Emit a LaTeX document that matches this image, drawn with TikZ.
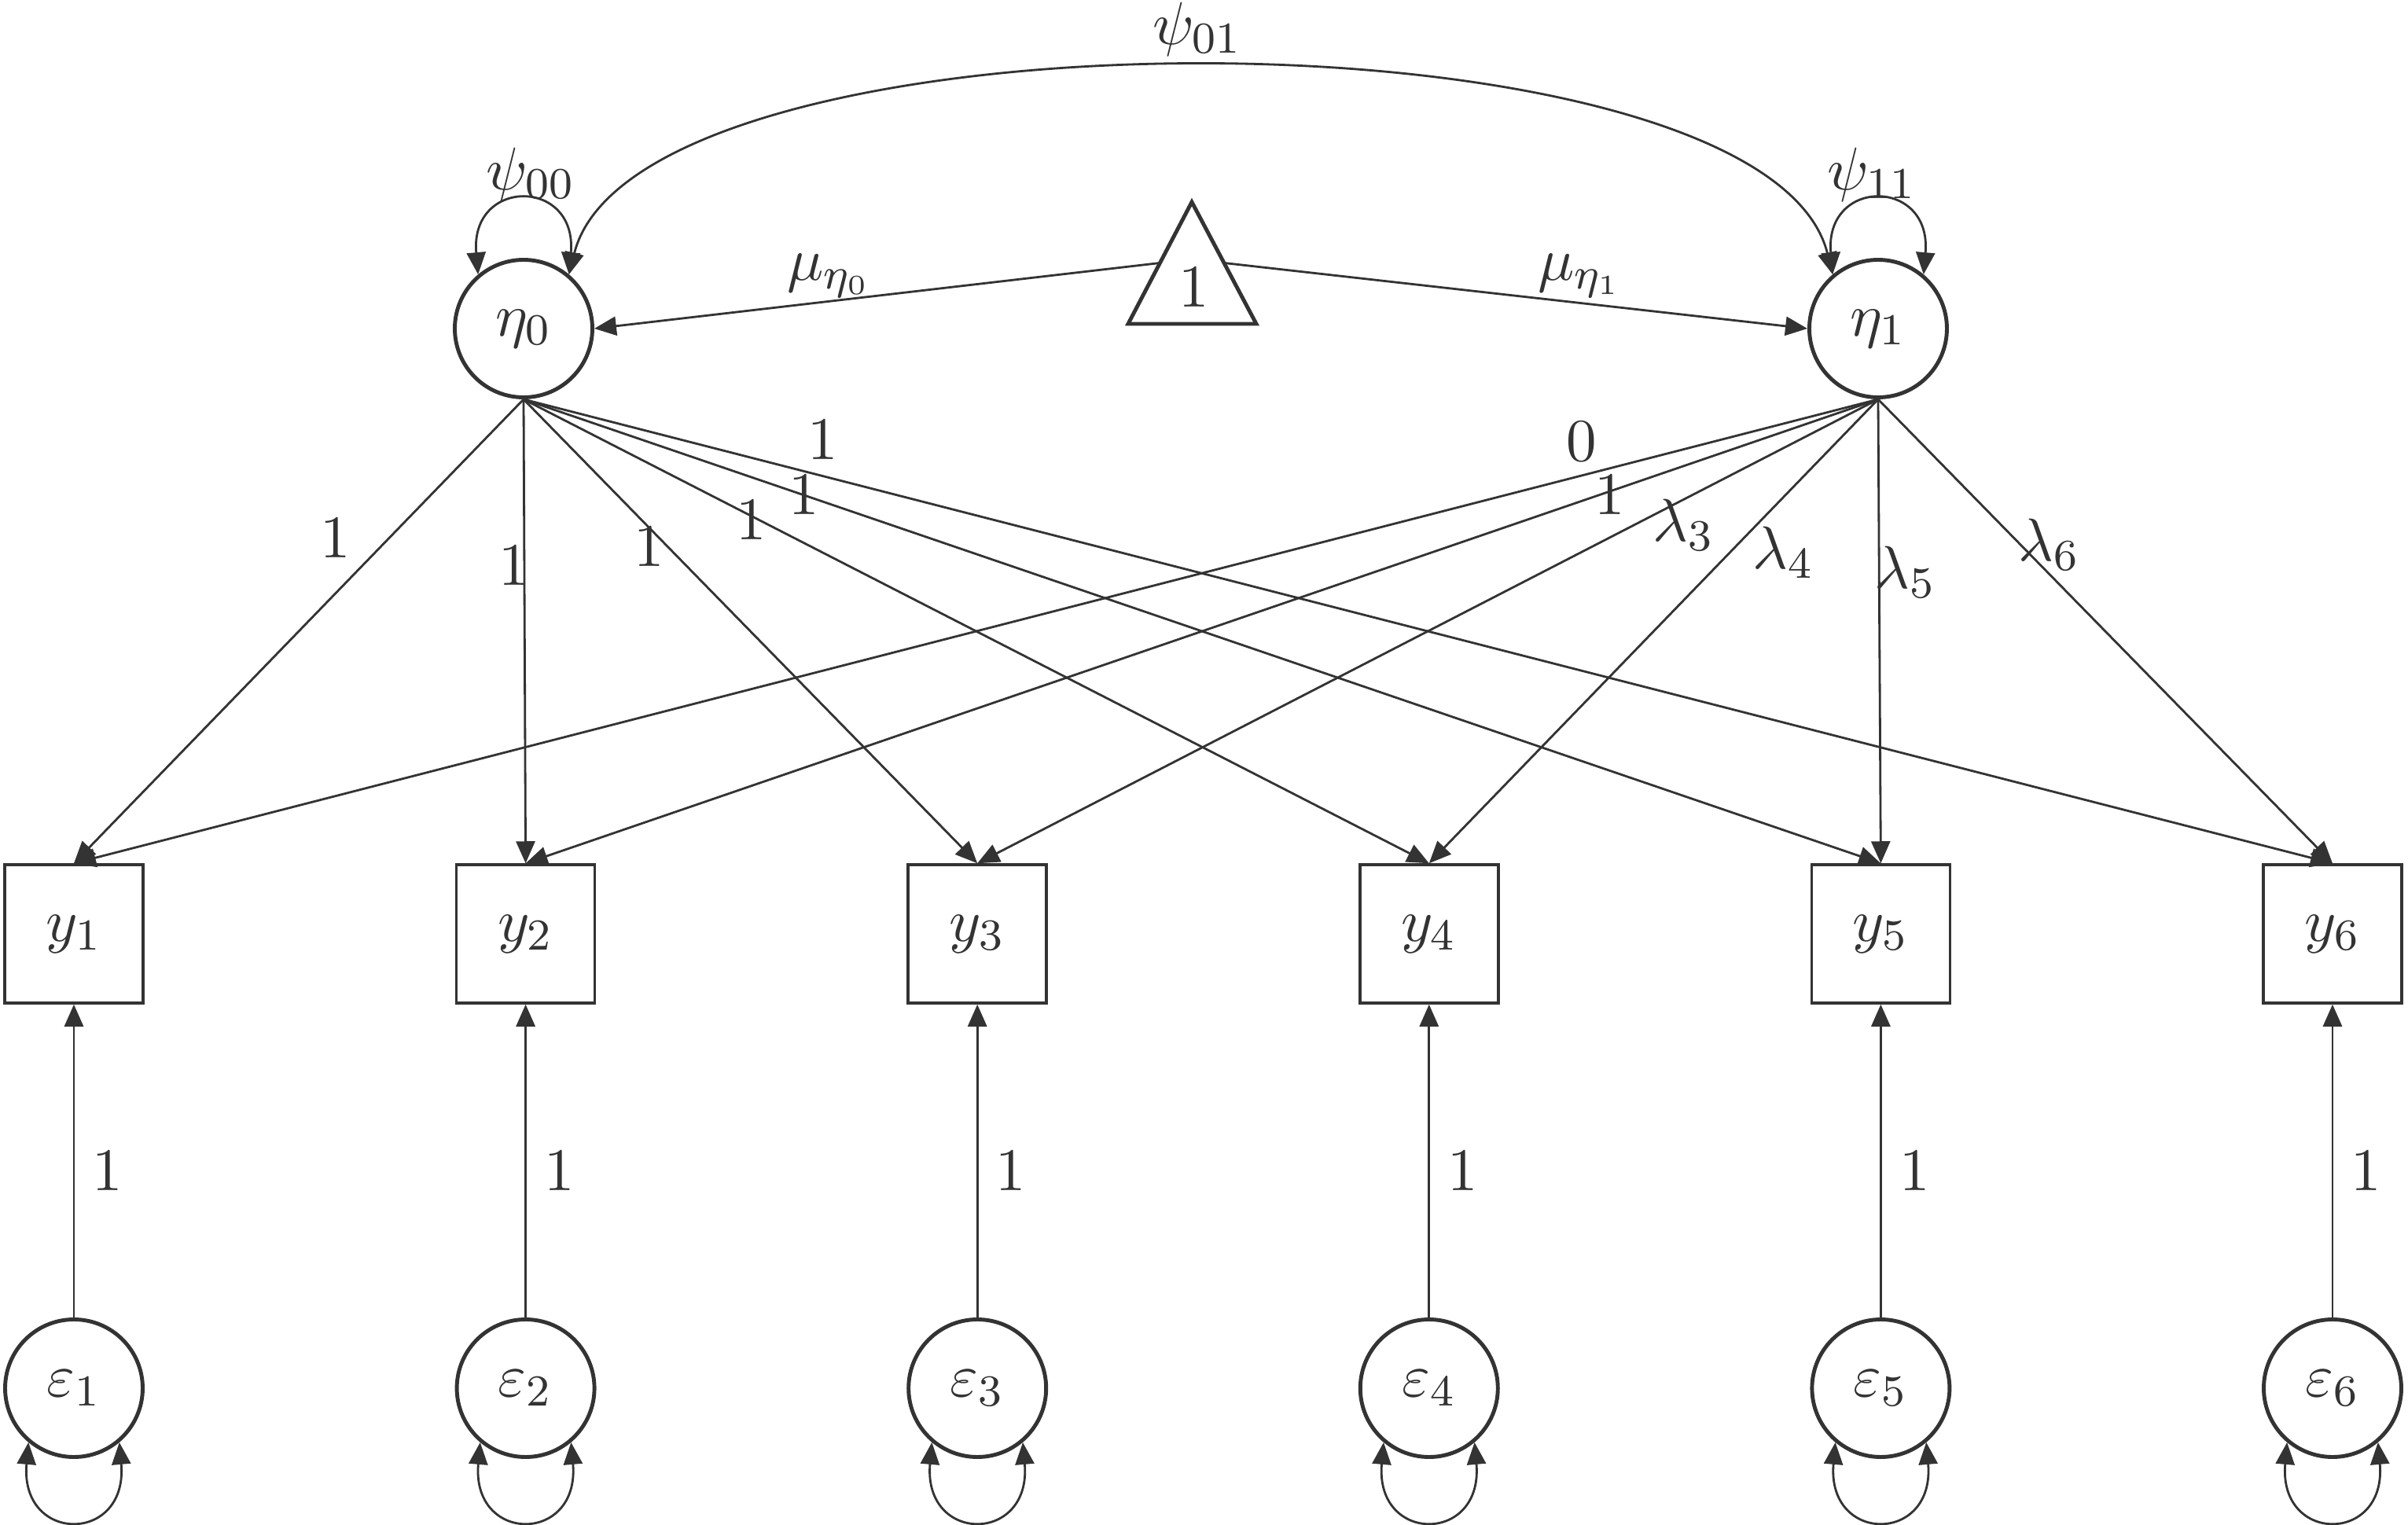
\documentclass[tikz,border=0pt]{standalone}
\usetikzlibrary{arrows.meta}
\definecolor{ink}{HTML}{333333}
\tikzset{
    latent/.style={circle, draw, line width=0.7pt, minimum size=0.875cm, inner sep=0pt},
    observed/.style={rectangle, draw, line width=0.5pt, minimum size=0.88cm, inner sep=0pt},
    regpath/.style={-{Triangle[length=0.14cm,width=0.12cm]}, line width=0.4pt},
    covpath/.style={{Triangle[length=0.14cm,width=0.12cm]}-{Triangle[length=0.14cm,width=0.12cm]}, line width=0.4pt},
}
\begin{document}
\begin{tikzpicture}[color=ink, font=\fontsize{11}{13}\selectfont]
                \useasboundingbox (0,0) rectangle (15.315,-9.7);
                % 潜在変数
                \node[latent] (eta0) at (3.33,-2.09) {$\eta_0$};
                \node[latent] (eta1) at (11.945,-2.09) {$\eta_1$};
                % 定数 1 の三角形
                \coordinate (triA) at (7.58,-1.285);
                \coordinate (triL) at (7.175,-2.06);
                \coordinate (triR) at (7.99,-2.06);
                \draw[line width=0.7pt] (triA) -- (triL) -- (triR) -- cycle;
                \node (one) at (7.595,-1.83) {$1$};
                \coordinate (triW) at (7.3775,-1.6725);
                \coordinate (triE) at (7.785,-1.6725);
                \draw[regpath] (triW) -- (eta0.east);
                \draw[regpath] (triE) -- (eta1.west);
                \node (mu0) at (5.275,-1.755) {$\mu_{\eta_0}$};
                \node (mu1) at (10.05,-1.755) {$\mu_{\eta_1}$};
                % 分散と共分散
                \draw[covpath] (eta0.130) .. controls +(95:0.62) and +(85:0.62) .. (eta0.50);
                \draw[covpath] (eta1.130) .. controls +(95:0.62) and +(85:0.62) .. (eta1.50);
                \draw[covpath] (eta0.50) .. controls +(76:1.8) and +(104:1.8) .. (eta1.130);
                \node (psi00) at (3.375,-1.11) {$\psi_{00}$};
                \node (psi11) at (11.905,-1.11) {$\psi_{11}$};
                \node (psi01) at (7.615,-0.185) {$\psi_{01}$};
                % 観測変数と誤差
                \foreach \i/\x in {1/0.47,2/3.343,3/6.216,4/9.089,5/11.962,6/14.835} {
                    \node[observed] (y\i) at (\x,-5.94) {$y_{\i}$};
                    \node[latent] (e\i) at (\x,-8.83) {$\varepsilon_{\i}$};
                    \draw[regpath] (e\i) -- (y\i);
                    \node (le\i) at (\x+0.215,-7.45) {$1$};
                    \draw[covpath] (e\i.230) .. controls +(265:0.65) and +(275:0.65) .. (e\i.310);
                }
                % 因子負荷
                \foreach \j in {1,...,6} {
                    \draw[regpath] (eta0.south) -- (y\j.north);
                    \draw[regpath] (eta1.south) -- (y\j.north);
                }
                \node (l01) at (2.135,-3.425) {$1$};
                \node (l02) at (3.27,-3.6) {$1$};
                \node (l03) at (4.13,-3.48) {$1$};
                \node (l04) at (4.78,-3.31) {$1$};
                \node (l05) at (5.115,-3.15) {$1$};
                \node (l06) at (5.235,-2.8) {$1$};
                \node (l11) at (10.06,-2.81) {$0$};
                \node (l12) at (10.24,-3.15) {$1$};
                \node (l13) at (10.71,-3.34) {$\lambda_3$};
                \node (l14) at (11.345,-3.515) {$\lambda_4$};
                \node (l15) at (12.12,-3.64) {$\lambda_5$};
                \node (l16) at (13.035,-3.465) {$\lambda_6$};
\end{tikzpicture}
\end{document}
